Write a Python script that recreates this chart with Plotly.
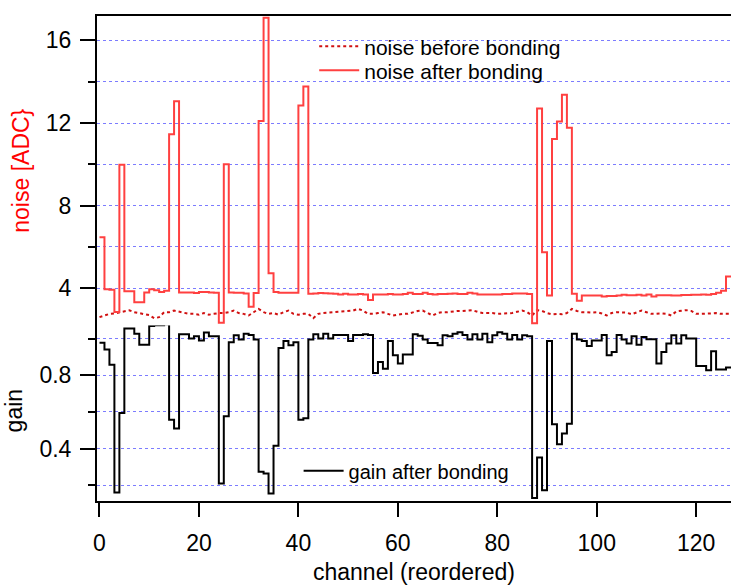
import plotly.graph_objects as go

channels = list(range(128))

noise_after = [
    6.47, 3.95, 3.93, 2.85, 9.98, 3.85, 3.85, 3.32, 3.32, 3.80,
    3.95, 3.90, 3.82, 3.88, 11.45, 13.05, 3.80, 3.80, 3.79, 3.77,
    3.82, 3.82, 3.79, 3.78, 2.33, 10.00, 3.80, 3.78, 3.78, 3.75,
    3.10, 3.77, 12.10, 17.10, 4.73, 3.82, 3.78, 3.78, 3.78, 3.78,
    12.85, 13.77, 3.73, 3.75, 3.77, 3.76, 3.75, 3.73, 3.70, 3.73,
    3.70, 3.70, 3.72, 3.70, 3.43, 3.70, 3.70, 3.70, 3.72, 3.70,
    3.70, 3.72, 3.78, 3.72, 3.72, 3.78, 3.72, 3.70, 3.72, 3.72,
    3.73, 3.75, 3.72, 3.72, 3.78, 3.75, 3.70, 3.70, 3.70, 3.70,
    3.70, 3.72, 3.72, 3.74, 3.74, 3.74, 3.72, 2.30, 12.70, 5.74,
    3.65, 11.23, 12.07, 13.37, 11.77, 3.73, 3.40, 3.65, 3.65, 3.65,
    3.65, 3.60, 3.62, 3.62, 3.65, 3.68, 3.66, 3.66, 3.68, 3.65,
    3.70, 3.60, 3.66, 3.66, 3.66, 3.65, 3.65, 3.67, 3.67, 3.68,
    3.68, 3.70, 3.68, 3.72, 3.78, 3.88, 4.57, 4.57,
]

noise_before = [
    2.60, 2.68, 2.76, 2.78, 2.84, 2.88, 2.93, 2.84, 2.80, 2.74,
    2.70, 2.55, 2.60, 2.84, 2.84, 2.92, 2.86, 2.82, 2.76, 2.76,
    2.72, 2.80, 2.72, 2.76, 2.80, 2.80, 2.84, 2.92, 2.80, 2.76,
    2.68, 2.84, 3.00, 2.84, 2.76, 2.80, 2.72, 2.84, 2.92, 2.76,
    2.72, 2.76, 2.76, 2.55, 2.76, 2.80, 2.82, 2.84, 2.86, 2.88,
    2.90, 2.92, 3.00, 2.92, 2.76, 2.76, 2.80, 2.84, 2.76, 2.68,
    2.72, 2.76, 2.76, 2.82, 2.90, 2.92, 2.80, 2.68, 2.80, 2.84,
    2.84, 2.88, 2.90, 2.90, 2.92, 2.94, 2.86, 2.80, 2.80, 2.80,
    2.76, 2.78, 2.78, 2.80, 2.86, 2.92, 2.84, 2.68, 2.94, 2.90,
    2.80, 2.74, 2.76, 2.74, 2.80, 3.00, 2.90, 2.84, 2.84, 2.82,
    2.84, 2.78, 2.68, 2.80, 2.84, 2.84, 2.82, 2.74, 2.84, 2.92,
    2.84, 2.76, 2.76, 2.78, 2.76, 2.68, 2.88, 2.90, 2.94, 2.90,
    2.76, 2.76, 2.76, 2.78, 2.80, 2.76, 2.76, 2.76,
]

gain_after = [
    0.978, 0.940, 0.858, 0.160, 0.594, 1.055, 1.055, 1.027, 0.967, 0.967,
    1.069, 1.073, 1.073, 1.078, 0.558, 0.509, 1.024, 1.024, 1.000, 1.013,
    0.990, 1.033, 1.013, 1.013, 0.209, 0.576, 0.980, 1.018, 0.995, 1.027,
    1.020, 0.995, 0.273, 0.264, 0.155, 0.415, 0.949, 0.987, 0.964, 0.980,
    0.558, 0.565, 0.995, 1.024, 1.000, 1.027, 1.000, 1.020, 1.020, 1.020,
    0.987, 1.020, 1.020, 1.024, 1.020, 0.813, 0.873, 0.836, 0.987, 0.909,
    0.864, 0.913, 0.913, 1.024, 1.015, 0.995, 0.976, 0.976, 0.964, 1.018,
    1.013, 1.027, 1.035, 1.020, 0.995, 1.024, 0.995, 1.027, 0.980, 1.018,
    1.035, 1.027, 0.995, 1.020, 0.995, 1.018, 1.013, 0.131, 0.351, 0.173,
    0.987, 0.533, 0.424, 0.482, 0.536, 1.027, 0.995, 0.987, 0.960, 0.990,
    0.990, 1.020, 0.909, 0.927, 1.020, 0.995, 0.973, 1.013, 0.967, 1.009,
    0.996, 0.996, 0.864, 0.927, 0.973, 1.018, 0.973, 1.018, 1.000, 1.000,
    0.851, 0.851, 0.827, 0.931, 0.831, 0.831, 0.842, 0.842,
]

FONT = "Liberation Sans, Arial, sans-serif"
GRID = "rgba(80,80,255,0.75)"

fig = go.Figure()

fig.add_trace(go.Scatter(
    x=channels, y=noise_before, mode="lines", name="noise before bonding",
    line=dict(color="#d01010", width=2, dash="dot"),
    xaxis="x2", yaxis="y", legend="legend",
))
fig.add_trace(go.Scatter(
    x=channels, y=noise_after, mode="lines", name="noise after bonding",
    line=dict(color="#ff4040", width=2, shape="hv"),
    xaxis="x2", yaxis="y", legend="legend3",
))
fig.add_trace(go.Scatter(
    x=channels, y=gain_after, mode="lines", name="gain after bonding",
    line=dict(color="black", width=2, shape="hv"),
    xaxis="x", yaxis="y2", legend="legend2",
))

# white legend backdrop hiding the grid behind the noise legend
fig.add_shape(
    type="rect", xref="paper", yref="paper",
    x0=0.331, x1=0.749, y0=0.8365, y1=0.970,
    fillcolor="white", line=dict(width=0), layer="between",
)

fig.update_layout(
    width=731, height=585,
    margin=dict(l=97, r=0, t=16, b=84, autoexpand=False),
    paper_bgcolor="white", plot_bgcolor="white",
    font=dict(family=FONT, size=23, color="black"),
    xaxis=dict(
        range=[-0.5, 127], anchor="y2", domain=[0, 1], automargin=False,
        tickmode="linear", tick0=0, dtick=20,
        ticks="outside", ticklen=14, tickwidth=2, tickcolor="black",
        showline=True, linecolor="black", linewidth=2,
        showgrid=False, zeroline=False,
        ticklabelstandoff=6,
        title=dict(text="channel (reordered)", font=dict(size=23), standoff=9),
    ),
    xaxis2=dict(
        matches="x", anchor="y", side="top", domain=[0, 1], automargin=False,
        showline=True, linecolor="black", linewidth=2,
        showticklabels=False, ticks="", showgrid=False, zeroline=False,
    ),
    yaxis=dict(
        range=[2.2, 17.18], domain=[0.362, 1], anchor="x2", automargin=False,
        tickmode="linear", tick0=0, dtick=4,
        ticks="outside", ticklen=15, tickwidth=2, tickcolor="black",
        showline=True, linecolor="black", linewidth=2,
        showgrid=True, gridcolor=GRID, griddash="dot", gridwidth=1,
        zeroline=False,
        minor=dict(dtick=2, tick0=0, ticks="outside", ticklen=7, tickwidth=2,
                   tickcolor="black", showgrid=True, gridcolor=GRID,
                   griddash="dot", gridwidth=1),
        ticklabelstandoff=4,
        title=dict(text="noise [ADC}", font=dict(color="#ff0000", size=23), standoff=10),
    ),
    yaxis2=dict(
        range=[0.114, 1.1], domain=[0, 0.3726], anchor="x", automargin=False,
        tickmode="linear", tick0=0, dtick=0.4, tickformat=".1f",
        ticks="outside", ticklen=15, tickwidth=2, tickcolor="black",
        showline=True, linecolor="black", linewidth=2,
        showgrid=True, gridcolor=GRID, griddash="dot", gridwidth=1,
        zeroline=False,
        minor=dict(dtick=0.2, tick0=0, ticks="outside", ticklen=7, tickwidth=2,
                   tickcolor="black", showgrid=True, gridcolor=GRID,
                   griddash="dot", gridwidth=1),
        ticklabelstandoff=4,
        title=dict(text="gain", font=dict(size=23), standoff=10),
    ),
    legend=dict(
        x=0.3426, y=0.979, xanchor="left", yanchor="top",
        bgcolor="rgba(0,0,0,0)", borderwidth=0,
        font=dict(size=21), itemwidth=40,
    ),
    legend3=dict(
        x=0.3426, y=0.9295, xanchor="left", yanchor="top",
        bgcolor="rgba(0,0,0,0)", borderwidth=0,
        font=dict(size=21), itemwidth=40,
    ),
    legend2=dict(
        x=0.318, y=0.1024, xanchor="left", yanchor="top",
        bgcolor="rgba(0,0,0,0)", borderwidth=0,
        font=dict(size=20), itemwidth=40,
    ),
    showlegend=True,
)

fig.write_html(
    "out.html",
    config={"displayModeBar": False},
    post_script="document.body.style.margin='0px';",
)
